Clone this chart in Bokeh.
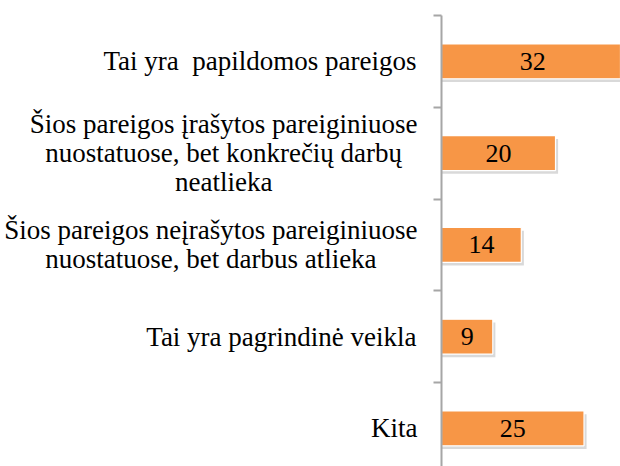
from bokeh.plotting import figure
from bokeh.models import Range1d, FixedTicker, ColumnDataSource, Label
from bokeh.layouts import row
from bokeh.transform import dodge
from bokeh.core.properties import value
from bokeh.embed import file_html
from bokeh.resources import INLINE

categories = [
    "Tai yra\u00a0 papildomos pareigos",
    "Šios pareigos įrašytos pareiginiuose\nnuostatuose, bet konkrečių darbų\nneatlieka",
    "Šios pareigos neįrašytos pareiginiuose\nnuostatuose, bet darbus atlieka",
    "Tai yra pagrindinė veikla",
    "Kita",
]
values = [32, 20, 14, 9, 25]

n = len(categories)
ypos = [n - i - 0.5 for i in range(n)]
src = ColumnDataSource(dict(
    y=ypos,
    v=values,
    mid=[v / 2 for v in values],
    lab=[str(v) for v in values],
))

# Times / Liberation Serif advance widths (1/1000 em) used to centre wrapped lines
CHAR_W = {"a": 444, "b": 500, "c": 444, "č": 444, "d": 500, "e": 444, "ė": 444, "g": 500,
          "i": 278, "į": 278, "k": 500, "l": 278, "m": 778, "n": 500, "o": 500, "p": 500,
          "r": 333, "s": 389, "š": 389, "t": 278, "u": 500, "ų": 500, "v": 500, "y": 500,
          " ": 250, "\u00a0": 250, ",": 250, "T": 611, "K": 722, "S": 556, "Š": 556}
FONT_PX = 27
LINE_PX = 29
GAP_PX = 4


def text_w(s):
    return sum(CHAR_W.get(ch, 500) for ch in s) / 1000 * FONT_PX


yr = Range1d(0.085, n)

# left panel: category labels
lp = figure(width=421, height=466, output_backend="svg", toolbar_location=None,
            x_range=Range1d(0, 1), y_range=yr, x_axis_location=None, y_axis_location=None,
            min_border_left=0, min_border_right=0, min_border_top=15, min_border_bottom=0)
lp.outline_line_color = None
lp.grid.visible = False
for y, c in zip(ypos, categories):
    lines = c.split("\n")
    block_w = max(text_w(s) for s in lines)
    L = len(lines)
    for k, s in enumerate(lines):
        lp.add_layout(Label(x=1, y=y, text=s,
                            x_offset=-GAP_PX - block_w / 2,
                            y_offset=((L - 1) / 2 - k) * LINE_PX,
                            text_align="center", text_baseline="middle",
                            text_font="Liberation Serif", text_font_size=f"{FONT_PX}px",
                            text_color="black"))

# right panel: bars
p = figure(width=199, height=466, output_backend="svg", toolbar_location=None,
           x_range=Range1d(0, 31.4), y_range=yr,
           x_axis_location=None, min_border_left=20, min_border_right=0,
           min_border_top=15, min_border_bottom=0)
p.outline_line_color = None
p.grid.visible = False

p.hbar(y=dodge("y", -0.035, range=p.y_range), left=0, right=dodge("v", 0.45, range=p.x_range),
       height=0.38, source=src, fill_color="#808080", fill_alpha=0.3, line_color=None)
p.hbar(y="y", left=0, right="v", height=0.38, source=src,
       fill_color="#F79646", line_color="white", line_width=1.2)
p.text(x="mid", y="y", text="lab", source=src, text_align="center", text_baseline="middle",
       text_font=value("Liberation Serif"), text_font_size="26px", text_color="black")

ax = p.yaxis[0]
ax.ticker = FixedTicker(ticks=[], minor_ticks=list(range(0, n + 1)))
ax.major_label_standoff = 0
ax.major_tick_out = 0
ax.major_tick_in = 0
ax.minor_tick_out = 8
ax.minor_tick_in = 0
ax.minor_tick_line_color = "#A6A6A6"
ax.minor_tick_line_width = 2
ax.axis_line_color = "#A6A6A6"
ax.axis_line_width = 2

layout = row(lp, p)
open("out.html", "w").write(file_html(layout, INLINE))
